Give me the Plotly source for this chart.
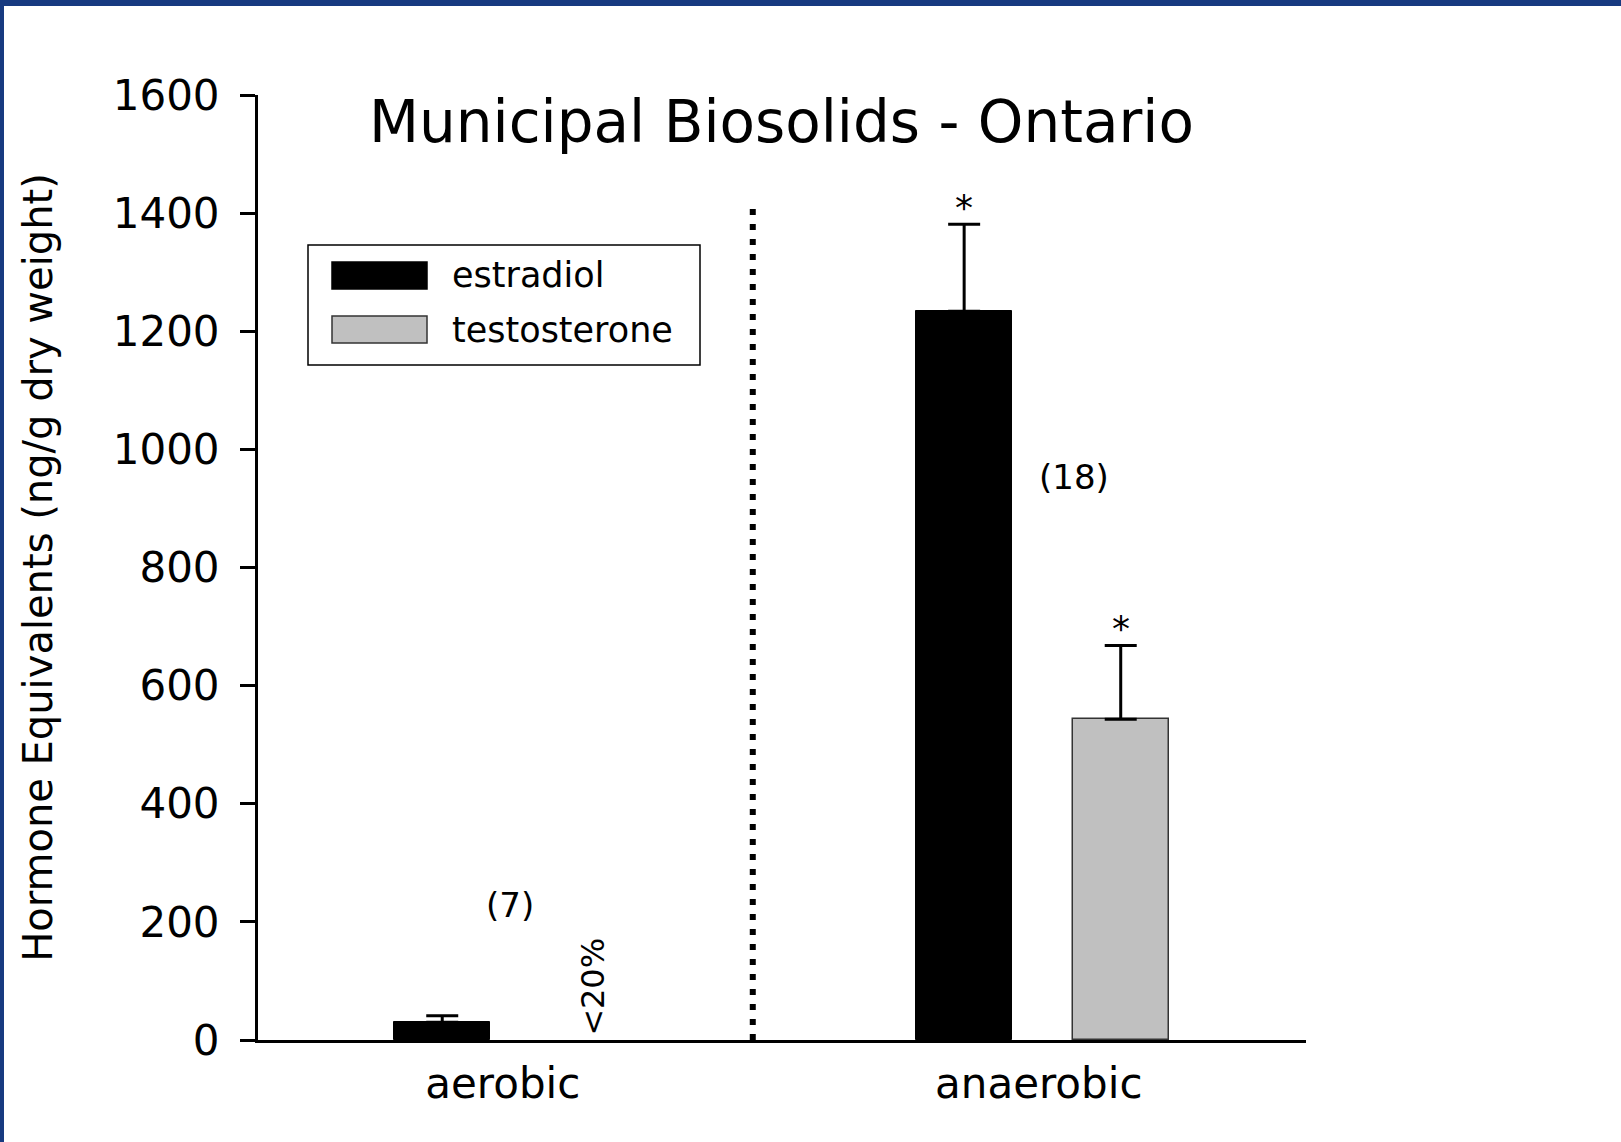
import plotly.graph_objects as go

# ---------------- data ----------------
categories = ["aerobic", "anaerobic"]
series_names = ["estradiol", "testosterone"]
estradiol = [30, 1234]
estradiol_err = [11, 147]
testosterone = [None, 543]
testosterone_err = [None, 125]
estradiol_sig = [False, True]
testosterone_sig = [False, True]
sample_sizes = ["(7)", "(18)"]
below_detection = ["<20%", None]   # testosterone note per category
y_ticks = [0, 200, 400, 600, 800, 1000, 1200, 1400, 1600]

# ---------------- geometry ----------------
W, H = 1621, 1142
L, R, T, B = 258, 315, 95, 102
PW, PH = W - L - R, H - T - B
FONT = "DejaVu Sans"


def X(px):
    return (px - L) / PW


def Y(py):
    return (H - B - py) / PH


off = 0.15
bw = 0.184
group_x = list(range(len(categories)))
x_e = [g - off for g in group_x]
x_t = [g + off for g in group_x]

fig = go.Figure()
fig.add_trace(go.Bar(
    x=x_e, y=estradiol, width=bw, name=series_names[0],
    marker=dict(color="black", line=dict(color="black", width=1)),
    error_y=dict(type="data", array=estradiol_err, arrayminus=[0] * len(estradiol_err),
                 symmetric=False, thickness=3, width=16, color="black"),
    showlegend=False,
))
fig.add_trace(go.Bar(
    x=x_t, y=testosterone, width=bw, name=series_names[1],
    marker=dict(color="#c0c0c0", line=dict(color="#333333", width=1.5)),
    error_y=dict(type="data", array=[e if e is not None else 0 for e in testosterone_err],
                 arrayminus=[0] * len(testosterone_err),
                 symmetric=False, thickness=3, width=16, color="black"),
    showlegend=False,
))

annotations = []
# significance stars
for xs, vals, errs, sig in [(x_e, estradiol, estradiol_err, estradiol_sig),
                            (x_t, testosterone, testosterone_err, testosterone_sig)]:
    for xi, v, e, s in zip(xs, vals, errs, sig):
        if s:
            annotations.append(dict(x=xi, y=v + e, xref="x", yref="y", text="*",
                                    showarrow=False, yanchor="bottom", yshift=-6,
                                    font=dict(family=FONT, size=36, color="black")))
# sample sizes
n_pos = [(-0.02, 228), (1.061, 953)]
for txt, (xx, yy) in zip(sample_sizes, n_pos):
    annotations.append(dict(x=xx, y=yy, xref="x", yref="y", text=txt, showarrow=False,
                            font=dict(family=FONT, size=34, color="black")))
# below detection note
for xi, note in zip(x_t, below_detection):
    if note:
        annotations.append(dict(x=xi, y=0, xref="x", yref="y", text=note, showarrow=False,
                                textangle=-90, yanchor="bottom", xshift=-6, yshift=2,
                                font=dict(family=FONT, size=32, color="black")))

# manual legend
leg_rows = [(series_names[0], "black", "black", 275.5),
            (series_names[1], "#c0c0c0", "#333333", 329.5)]
shapes = []
shapes.append(dict(type="rect", xref="paper", yref="paper", x0=X(308), x1=X(700),
                   y0=Y(365), y1=Y(245), line=dict(color="black", width=1.5),
                   fillcolor="white"))
for name, fill, edge, cy in leg_rows:
    shapes.append(dict(type="rect", xref="paper", yref="paper", x0=X(332), x1=X(427),
                       y0=Y(cy + 13.5), y1=Y(cy - 13.5),
                       line=dict(color=edge, width=1.5), fillcolor=fill))
    annotations.append(dict(x=X(450), y=Y(cy), xref="paper", yref="paper", text=name,
                            showarrow=False, xanchor="left", yanchor="middle",
                            font=dict(family=FONT, size=35, color="black")))

# dotted divider
shapes.append(dict(type="line", xref="x", yref="y", x0=0.445, x1=0.445, y0=0, y1=1410,
                   line=dict(color="black", width=6, dash="6px,9px")))

# blue frame (top + left)
frame = "#173a80"
shapes.append(dict(type="rect", xref="paper", yref="paper", x0=X(0), x1=X(4),
                   y0=Y(H), y1=Y(0), line=dict(width=0), fillcolor=frame))
shapes.append(dict(type="rect", xref="paper", yref="paper", x0=X(0), x1=X(W),
                   y0=Y(6), y1=Y(0), line=dict(width=0), fillcolor=frame))

fig.update_layout(
    width=W, height=H,
    margin=dict(l=L, r=R, t=T, b=B, pad=0),
    paper_bgcolor="white", plot_bgcolor="white",
    font=dict(family=FONT, color="black"),
    title=dict(text="Municipal Biosolids - Ontario", x=X(781.5), xref="paper",
               xanchor="center", y=1 - 122 / H, yref="container", yanchor="middle",
               font=dict(family=FONT, size=58, color="black")),
    xaxis=dict(range=[-0.503, 1.505], tickvals=[-0.034, 0.993], ticktext=categories,
               showline=True, linecolor="black", linewidth=3, ticks="",
               showgrid=False, zeroline=False, tickfont=dict(size=42),
               ticklabelstandoff=5),
    yaxis=dict(range=[0, 1600], tickvals=y_ticks, showline=True, linecolor="black",
               linewidth=3, ticks="outside", ticklen=15, tickwidth=3, tickcolor="black",
               showgrid=False, zeroline=False, tickfont=dict(size=42),
               ticklabelstandoff=12,
               title=dict(text="Hormone Equivalents (ng/g dry weight)",
                          font=dict(size=40), standoff=48)),
    shapes=shapes,
    annotations=annotations,
    bargap=0,
)

fig.write_html("out.html", config={"displayModeBar": False},
               post_script="document.body.style.margin='0';document.body.style.overflow='hidden';")
